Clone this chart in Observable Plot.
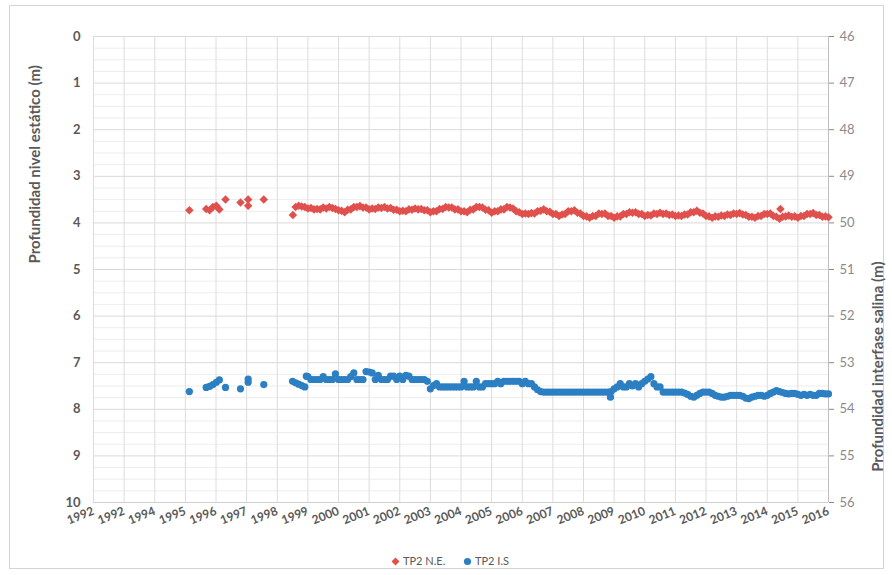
<!DOCTYPE html>
<html><head><meta charset="utf-8">
<script src="https://cdn.jsdelivr.net/npm/d3@7"></script>
<script src="https://cdn.jsdelivr.net/npm/@observablehq/plot@0.6"></script>
<style>
body{margin:0;background:#fff;font-family:Lato,"Open Sans",sans-serif;}
#wrap{position:relative;width:892px;height:575px;overflow:hidden;}
#frame{position:absolute;left:9px;top:5px;width:873px;height:562px;border:1.5px solid #d4d4d4;}
#chart{position:absolute;left:0;top:0;}
.leg{position:absolute;top:553px;font-size:11px;color:#595959;white-space:nowrap;line-height:16px;}
.leg svg{vertical-align:middle;margin-right:3px;position:relative;top:-1px;}
</style></head>
<body><div id="wrap"><div id="frame"></div><div id="chart"></div>
<div class="leg" style="left:391px"><svg width="9" height="9"><path d="M4.5,0.5L8.5,4.5L4.5,8.5L0.5,4.5Z" fill="#e0504c"/></svg>TP2 N.E.</div>
<div class="leg" style="left:463px"><svg width="9" height="9"><circle cx="4.5" cy="4.5" r="3.6" fill="#2b7fc2"/></svg>TP2 I.S</div>
</div>
<script>
// x tick labels (as printed on the original axis)
const xTicks = d3.range(1992, 2017);
const xTickLabels = ["1992","1992","1994","1995","1996","1997","1998","1999","2000","2001","2002","2003","2004","2005","2006","2007","2008","2009","2010","2011","2012","2013","2014","2015","2016"];
const leftTicks = [0,1,2,3,4,5,6,7,8,9,10];
const rightTickLabels = ["46","47","48","49","50","51","52","53","54","55","56"];

// TP2 N.E. (left axis, m)
const neYears = [1995.13,1995.68,1995.79,1995.90,1996.01,1996.11,1996.31,1996.80,1997.05,1997.05,1997.56,1998.51,2014.43,
 1998.6,1998.7,1998.8,1998.9,1999.0,1999.1,1999.2,1999.3,1999.4,1999.5,1999.6,1999.7,1999.8,1999.9,
 2000.0,2000.1,2000.2,2000.3,2000.4,2000.5,2000.6,2000.7,2000.8,2000.9,2001.0,2001.1,2001.2,2001.3,2001.4,2001.5,2001.6,2001.7,2001.8,2001.9,
 2002.0,2002.1,2002.2,2002.3,2002.4,2002.5,2002.6,2002.7,2002.8,2002.9,2003.0,2003.1,2003.2,2003.3,2003.4,2003.5,2003.6,2003.7,2003.8,2003.9,
 2004.0,2004.1,2004.2,2004.3,2004.4,2004.5,2004.6,2004.7,2004.8,2004.9,2005.0,2005.1,2005.2,2005.3,2005.4,2005.5,2005.6,2005.7,2005.8,2005.9,
 2006.0,2006.1,2006.2,2006.3,2006.4,2006.5,2006.6,2006.7,2006.8,2006.9,2007.0,2007.1,2007.2,2007.3,2007.4,2007.5,2007.6,2007.7,2007.8,2007.9,
 2008.0,2008.1,2008.2,2008.3,2008.4,2008.5,2008.6,2008.7,2008.8,2008.9,2009.0,2009.1,2009.2,2009.3,2009.4,2009.5,2009.6,2009.7,2009.8,2009.9,
 2010.0,2010.1,2010.2,2010.3,2010.4,2010.5,2010.6,2010.7,2010.8,2010.9,2011.0,2011.1,2011.2,2011.3,2011.4,2011.5,2011.6,2011.7,2011.8,2011.9,
 2012.0,2012.1,2012.2,2012.3,2012.4,2012.5,2012.6,2012.7,2012.8,2012.9,2013.0,2013.1,2013.2,2013.3,2013.4,2013.5,2013.6,2013.7,2013.8,2013.9,
 2014.0,2014.1,2014.2,2014.3,2014.4,2014.5,2014.6,2014.7,2014.8,2014.9,2015.0,2015.1,2015.2,2015.3,2015.4,2015.5,2015.6,2015.7,2015.8,2015.9,2016.0];
const neValues = [3.73,3.70,3.73,3.66,3.63,3.71,3.50,3.56,3.50,3.63,3.50,3.83,3.70,
 3.66,3.63,3.65,3.66,3.69,3.68,3.71,3.70,3.71,3.67,3.69,3.66,3.68,3.70,
 3.73,3.74,3.77,3.72,3.71,3.66,3.66,3.64,3.67,3.67,3.71,3.69,3.70,3.67,3.68,3.66,3.69,3.68,3.72,3.72,
 3.75,3.74,3.75,3.71,3.72,3.69,3.71,3.70,3.73,3.73,3.77,3.75,3.75,3.70,3.70,3.66,3.67,3.67,3.71,3.71,
 3.75,3.75,3.77,3.72,3.71,3.66,3.66,3.67,3.72,3.73,3.78,3.75,3.75,3.71,3.71,3.66,3.67,3.69,3.75,3.77,
 3.81,3.80,3.81,3.79,3.80,3.75,3.74,3.71,3.75,3.76,3.81,3.81,3.85,3.82,3.81,3.75,3.75,3.73,3.78,3.80,
 3.85,3.86,3.89,3.85,3.85,3.80,3.81,3.80,3.85,3.85,3.89,3.86,3.86,3.81,3.81,3.77,3.78,3.77,3.81,3.81,
 3.85,3.83,3.84,3.80,3.81,3.78,3.81,3.80,3.83,3.82,3.85,3.84,3.85,3.82,3.82,3.77,3.77,3.74,3.78,3.80,
 3.85,3.86,3.89,3.86,3.87,3.84,3.85,3.82,3.83,3.80,3.81,3.79,3.82,3.83,3.87,3.87,3.89,3.85,3.85,3.81,
 3.81,3.80,3.85,3.87,3.91,3.87,3.86,3.84,3.87,3.86,3.89,3.85,3.85,3.81,3.81,3.79,3.83,3.83,3.87,3.86,3.88];

// TP2 I.S (right axis, m)
const isYears = [1995.13,1995.68,1995.79,1995.90,1996.01,1996.11,1996.31,1996.80,1997.05,1997.05,1997.56,1998.95,2008.88,
 1998.5,1998.6,1998.7,1998.8,1998.9,1999.0,1999.1,1999.2,1999.3,1999.4,1999.5,1999.6,1999.7,1999.8,1999.9,
 2000.0,2000.1,2000.2,2000.3,2000.4,2000.5,2000.6,2000.7,2000.8,2000.9,2001.0,2001.1,2001.2,2001.3,2001.4,2001.5,2001.6,2001.7,2001.8,2001.9,
 2002.0,2002.1,2002.2,2002.3,2002.4,2002.5,2002.6,2002.7,2002.8,2002.9,2003.0,2003.1,2003.2,2003.3,2003.4,2003.5,2003.6,2003.7,2003.8,2003.9,
 2004.0,2004.1,2004.2,2004.3,2004.4,2004.5,2004.6,2004.7,2004.8,2004.9,2005.0,2005.1,2005.2,2005.3,2005.4,2005.5,2005.6,2005.7,2005.8,2005.9,
 2006.0,2006.1,2006.2,2006.3,2006.4,2006.5,2006.6,2006.7,2006.8,2006.9,2007.0,2007.1,2007.2,2007.3,2007.4,2007.5,2007.6,2007.7,2007.8,2007.9,
 2008.0,2008.1,2008.2,2008.3,2008.4,2008.5,2008.6,2008.7,2008.8,2008.9,2009.0,2009.1,2009.2,2009.3,2009.4,2009.5,2009.6,2009.7,2009.8,2009.9,
 2010.0,2010.1,2010.2,2010.3,2010.4,2010.5,2010.6,2010.7,2010.8,2010.9,2011.0,2011.1,2011.2,2011.3,2011.4,2011.5,2011.6,2011.7,2011.8,2011.9,
 2012.0,2012.1,2012.2,2012.3,2012.4,2012.5,2012.6,2012.7,2012.8,2012.9,2013.0,2013.1,2013.2,2013.3,2013.4,2013.5,2013.6,2013.7,2013.8,2013.9,
 2014.0,2014.1,2014.2,2014.3,2014.4,2014.5,2014.6,2014.7,2014.8,2014.9,2015.0,2015.1,2015.2,2015.3,2015.4,2015.5,2015.6,2015.7,2015.8,2015.9,2016.0];
const isValues = [53.62,53.53,53.51,53.47,53.42,53.37,53.53,53.56,53.35,53.42,53.47,53.29,53.74,
 53.40,53.43,53.46,53.49,53.52,53.30,53.36,53.36,53.36,53.36,53.30,53.36,53.36,53.36,53.24,
 53.36,53.36,53.36,53.36,53.30,53.22,53.36,53.36,53.36,53.19,53.20,53.22,53.36,53.27,53.36,53.36,53.36,53.29,53.29,53.36,
 53.29,53.36,53.27,53.29,53.36,53.36,53.36,53.36,53.36,53.40,53.56,53.49,53.45,53.52,53.52,53.52,53.52,53.52,53.52,53.52,
 53.52,53.40,53.52,53.52,53.52,53.40,53.52,53.52,53.45,53.45,53.45,53.45,53.40,53.45,53.40,53.40,53.40,53.40,53.40,53.40,
 53.45,53.40,53.45,53.45,53.52,53.58,53.62,53.63,53.63,53.63,53.63,53.63,53.63,53.63,53.63,53.63,53.63,53.63,53.63,53.63,
 53.63,53.63,53.63,53.63,53.63,53.63,53.63,53.63,53.63,53.62,53.56,53.52,53.45,53.52,53.52,53.45,53.50,53.45,53.52,53.45,
 53.40,53.35,53.30,53.45,53.52,53.52,53.63,53.63,53.63,53.63,53.63,53.63,53.63,53.65,53.68,53.72,53.74,53.70,53.66,53.63,
 53.63,53.63,53.66,53.70,53.72,53.74,53.74,53.72,53.70,53.70,53.70,53.70,53.72,53.76,53.77,53.74,53.72,53.70,53.70,53.72,
 53.70,53.66,53.63,53.60,53.62,53.64,53.66,53.67,53.66,53.66,53.68,53.70,53.68,53.70,53.68,53.70,53.70,53.66,53.66,53.67,53.67];

const ne = neYears.map((t,i)=>({t, v: neValues[i]}));
const is = isYears.map((t,i)=>({t, v: isValues[i]}));
const rightBase = 46;

const minorTicks = d3.range(0, 10.001, 0.25).filter(d => Math.abs(d - Math.round(d)) > 1e-6);
const font = "Lato, 'Open Sans', sans-serif";

const chart = Plot.plot({
  width: 892, height: 545,
  marginLeft: 93, marginRight: 64, marginTop: 36, marginBottom: 43,
  style: {fontFamily: font, background: "transparent"},
  x: {type: "linear", domain: [1992, 2016]},
  y: {domain: [0, 10], reverse: true},
  marks: [
    Plot.gridY(minorTicks, {stroke: "#ededed", strokeOpacity: 1}),
    Plot.gridY(leftTicks, {stroke: "#d9d9d9", strokeOpacity: 1}),
    Plot.gridX(xTicks, {stroke: "#dcdcdc", strokeOpacity: 1}),
    Plot.ruleX([2016], {stroke: "#bfbfbf"}),
    Plot.ruleY([10], {stroke: "#d0d0d0"}),
    Plot.axisY(leftTicks, {anchor: "left", tickSize: 0, tickPadding: 13, fontSize: 13, fontWeight: "bold", color: "#595959", label: null}),
    Plot.axisY(leftTicks, {anchor: "right", tickSize: 5, tickPadding: 6, fontSize: 13, color: "#8a8a8a", label: null,
      tickFormat: d => rightTickLabels[leftTicks.indexOf(d)]}),
    Plot.axisX(xTicks, {anchor: "bottom", tickSize: 0, tickPadding: 8, tickRotate: -22, fontSize: 12, fontWeight: "bold", color: "#595959", label: null,
      tickFormat: d => xTickLabels[xTicks.indexOf(d)]}),
    Plot.text(["Profundidad nivel estático (m)"], {frameAnchor: "left", rotate: -90, dx: -58, dy: -6, fontSize: 15, fontWeight: "bold", fill: "#595959"}),
    Plot.text(["Profundidad interfase salina (m)"], {frameAnchor: "right", rotate: -90, dx: 50, dy: -8, fontSize: 15, fontWeight: "bold", fill: "#595959"}),
    Plot.dot(ne, {x: "t", y: "v", symbol: "square", rotate: 45, r: 3.4, fill: "#e0504c", stroke: null}),
    Plot.dot(is, {x: "t", y: d => d.v - rightBase, symbol: "circle", r: 3.6, fill: "#2b7fc2", stroke: null})
  ]
});
document.getElementById("chart").appendChild(chart);
</script>
</body></html>
